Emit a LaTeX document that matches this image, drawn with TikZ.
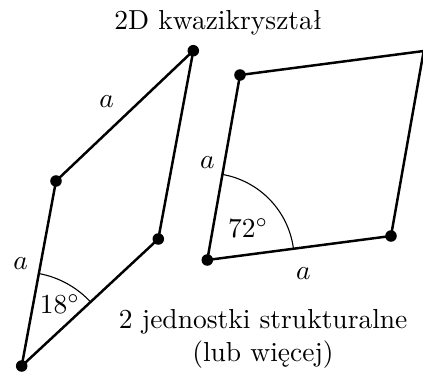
\documentclass[tikz,border=0pt]{standalone}
\usepackage{fontspec}
\usetikzlibrary{angles,calc}
\begin{document}
\begin{tikzpicture}[x=0.36364pt,y=-0.36364pt,
  edge/.style={line width=0.9pt},
  vdot/.style={circle,fill=black,inner sep=0pt,minimum size=4.2pt},
  lbl/.style={inner sep=0pt},
  arcmark/.style={draw,line width=0.4pt}]
\useasboundingbox (0,0) rectangle (423,375);
% left rhombus
\coordinate (B) at (21.7,366);
\coordinate (L) at (56,181);
\coordinate (T) at (193.3,50.7);
\coordinate (R) at (158.3,239);
\draw[edge] (B) -- (L) -- (T) -- (R) -- cycle;
\pic[arcmark, angle radius=34.2pt] {angle = R--B--L};
\foreach \p in {B,L,T,R} \node[vdot] (d\p) at (\p) {};
% right rhombus
\coordinate (BL) at (207.3,260);
\coordinate (TL) at (240,75);
\coordinate (BR) at (391,236);
\coordinate (TR) at ($(TL)+(BR)-(BL)$);
\draw[edge] (BL) -- (TL) -- (TR) -- (BR) -- cycle;
\pic[arcmark, angle radius=31.6pt] {angle = BR--BL--TL};
\foreach \p in {BL,TL,BR} \node[vdot] (d\p) at (\p) {};
% labels
\node[lbl] (a1) at (20.7,264) {$a$};
\node[lbl] (a2) at (106.7,101.7) {$a$};
\node[lbl] (a3) at (207.3,162.3) {$a$};
\node[lbl] (a4) at (303.3,274) {$a$};
\node[lbl] (ang1) at (60,304) {$18^\circ$};
\node[lbl] (ang2) at (248.3,228.3) {$72^\circ$};
\node[lbl,anchor=base] (title) at (218.3,29.3) {2D kwazikryształ};
\node[lbl,anchor=base] (t1) at (263.2,328.3) {2 jednostki strukturalne};
\node[lbl,anchor=base] (t2) at (263,361.7) {(lub więcej)};
\end{tikzpicture}
\end{document}
